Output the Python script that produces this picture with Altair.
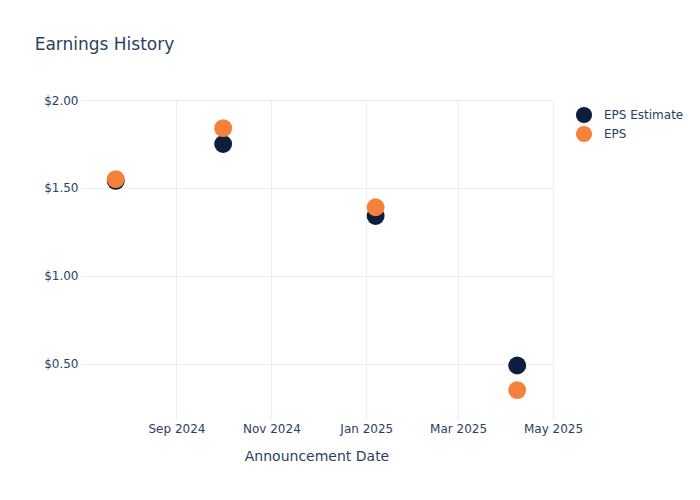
import altair as alt
import pandas as pd

dates = ["2024-07-24", "2024-10-01", "2025-01-07", "2025-04-08"]
eps_estimate = [1.54, 1.75, 1.34, 0.49]
eps_actual = [1.55, 1.84, 1.39, 0.35]
series = ["EPS Estimate", "EPS"]
colors = ["#0d1f3d", "#f5813a"]

rows = []
for d, v in zip(dates, eps_estimate):
    rows.append({"date": d, "value": v, "series": series[0]})
for d, v in zip(dates, eps_actual):
    rows.append({"date": d, "value": v, "series": series[1]})
df = pd.DataFrame(rows)

tick_dates = [alt.DateTime(year=2024, month=9, date=1, utc=True),
              alt.DateTime(year=2024, month=11, date=1, utc=True),
              alt.DateTime(year=2025, month=1, date=1, utc=True),
              alt.DateTime(year=2025, month=3, date=1, utc=True),
              alt.DateTime(year=2025, month=5, date=1, utc=True)]

text_color = "#2a3f5f"
grid_color = "#ebf0f8"
font = "DejaVu Sans"

chart = alt.Chart(df).mark_circle(size=320, opacity=1).encode(
    x=alt.X("date:T",
            scale=alt.Scale(type="utc",
                            domain=[alt.DateTime(year=2024, month=7, date=1, utc=True),
                                    alt.DateTime(year=2025, month=5, date=1, utc=True)]),
            axis=alt.Axis(title="Announcement Date", values=tick_dates,
                          labelExpr="utcFormat(datum.value, '%b %Y')",
                          labelFlush=False, labelOverlap=False, labelBound=False,
                          grid=True, gridColor=grid_color, domain=False,
                          ticks=False, labelPadding=3, titlePadding=15, titleFontSize=14,
                          titleFontWeight="normal", labelFontSize=12, labelColor=text_color,
                          titleColor=text_color, labelFont=font, titleFont=font)),
    y=alt.Y("value:Q",
            scale=alt.Scale(domain=[0.18, 2.0], nice=False, zero=False),
            axis=alt.Axis(title=None, values=[0.5, 1.0, 1.5, 2.0], format="$.2f",
                          labelFlush=False, labelOverlap=False,
                          grid=True, gridColor=grid_color, domain=False, ticks=False,
                          labelPadding=2, labelFontSize=12, labelColor=text_color,
                          labelFont=font)),
    color=alt.Color("series:N",
                    scale=alt.Scale(domain=series, range=colors),
                    legend=alt.Legend(title=None, orient="none", legendX=495, legendY=6,
                                      symbolSize=260, symbolType="circle",
                                      labelFontSize=12, labelColor=text_color,
                                      labelFont=font, rowPadding=1,
                                      symbolOpacity=1, labelOffset=11)),
).properties(
    width=473,
    height=320,
    title=alt.TitleParams("Earnings History", anchor="start", fontSize=17,
                          font=font, fontWeight="normal", color=text_color,
                          dx=-9, offset=40),
    autosize=alt.AutoSizeParams(type="none"),
    padding={"left": 72, "top": 92, "right": 130, "bottom": 64},
).configure_view(stroke=None)

chart.save("out.html", embed_options={"renderer": "svg", "actions": False})
